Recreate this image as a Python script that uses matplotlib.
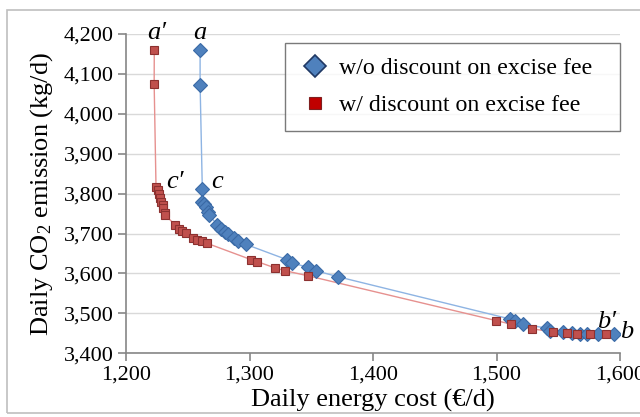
import matplotlib
matplotlib.use("Agg")
import matplotlib.pyplot as plt
from matplotlib.ticker import FuncFormatter, MultipleLocator
from matplotlib.patches import Rectangle
from matplotlib.lines import Line2D

plt.rcParams['font.family'] = ['Liberation Serif', 'DejaVu Serif']
plt.rcParams['mathtext.fontset'] = 'custom'
plt.rcParams['mathtext.rm'] = 'Liberation Serif'
plt.rcParams['mathtext.it'] = 'Liberation Serif:italic'

# w/o discount on excise fee (blue)
cost_wo = [1260, 1260, 1261.8, 1261.8, 1263.4, 1264.5, 1266.1, 1267.2, 1273.9, 1276.7,
           1280.2, 1282.8, 1287.7, 1290.4, 1297.0, 1330.0, 1334.1, 1347.6, 1353.8, 1371.4,
           1510.9, 1515.0, 1521.7, 1540.6, 1543.3, 1554.1, 1560.9, 1567.6, 1573.0, 1582.4, 1595.0]
co2_wo = [4159, 4073, 3811, 3780, 3773, 3766, 3755, 3747, 3722, 3712,
          3705, 3699, 3688, 3682, 3673, 3635, 3627, 3615, 3607, 3592,
          3486, 3482, 3473, 3463, 3457, 3453, 3450, 3448, 3448, 3448, 3448]

# w/ discount on excise fee (red)
cost_w = [1222.9, 1222.8, 1224.3, 1226.0, 1226.7, 1227.5, 1228.6, 1229.7, 1230.2, 1231.3,
          1231.8, 1239.7, 1243.2, 1245.0, 1248.6, 1254.5, 1257.7, 1261.3, 1265.3, 1301.0,
          1306.0, 1320.6, 1328.7, 1347.6, 1499.6, 1511.7, 1529.0, 1546.0, 1556.8, 1564.9,
          1575.7, 1588.7]
co2_w = [4160, 4075, 3817, 3809, 3799, 3788, 3778, 3771, 3763, 3751,
         3746, 3722, 3711, 3707, 3702, 3688, 3684, 3681, 3676, 3635,
         3630, 3614, 3607, 3594, 3482, 3473, 3461, 3454, 3450, 3448,
         3448, 3448]

labels = ["w/o discount on excise fee", "w/ discount on excise fee"]

# point labels: text, cost, co2
pt_text = ["a\u2032", "a", "c\u2032", "c", "b\u2032", "b"]
pt_cost = [1225, 1260, 1240, 1273.5, 1589, 1605.5]
pt_co2 = [4203, 4203, 3830, 3830, 3479, 3454]

fig = plt.figure(figsize=(6.4, 4.17), dpi=100)
ax = fig.add_axes([126/640, 1-353.3/417, (620-126)/640, (353.3-34)/417])

blue_line = '#8EB4E3'
red_line = '#E6918F'
ax.plot(cost_wo, co2_wo, '-', color=blue_line, lw=1.0, zorder=2)
ax.plot(cost_w, co2_w, '-', color=red_line, lw=1.0, zorder=2)
ax.plot(cost_wo, co2_wo, 'D', ls='none', ms=7, mfc='#4F81BD', mec='#3A6AA6', mew=0.8, zorder=3)
ax.plot(cost_w, co2_w, 's', ls='none', ms=6.3, mfc='#C0504D', mec='#8C3130', mew=0.8, zorder=4)

ax.set_xlim(1200, 1600)
ax.set_ylim(3400, 4200)
ax.xaxis.set_major_locator(MultipleLocator(100))
ax.yaxis.set_major_locator(MultipleLocator(100))
fmt = FuncFormatter(lambda v, p: f"{v:,.0f}")
ax.xaxis.set_major_formatter(fmt)
ax.yaxis.set_major_formatter(fmt)
ax.grid(axis='y', color='#D9D9D9', lw=1.0)
ax.set_axisbelow(True)
for s in ['top', 'right']:
    ax.spines[s].set_visible(False)
for s in ['left', 'bottom']:
    ax.spines[s].set_color('#868686')
    ax.spines[s].set_linewidth(1.2)
ax.tick_params(direction='out', length=6, width=1.2, color='#868686', labelsize=16, pad=3)

ax.set_xlabel("Daily energy cost (\u20ac/d)", fontsize=19, labelpad=3)
ax.set_ylabel("Daily CO$_2$ emission (kg/d)", fontsize=19, labelpad=6)

for t, x, y in zip(pt_text, pt_cost, pt_co2):
    ax.text(x, y, t, fontsize=19, style='italic', ha='center', va='center', clip_on=False)

# legend
h1 = Line2D([], [], marker='D', ls='none', ms=11, mfc='#4F81BD', mec='#1F3864', mew=1.2)
h2 = Line2D([], [], marker='s', ls='none', ms=8.5, mfc='#C00000', mec='#7F1F1F', mew=0.8)
x0, x1 = 285/640, 620/640
ytop = 1 - 43/417
leg = fig.legend([h1, h2], labels, loc='upper left', mode='expand',
                 bbox_to_anchor=(x0, ytop - 0.2, x1 - x0, 0.2),
                 fontsize=17.2, frameon=True, fancybox=False, borderpad=0.6, labelspacing=0.65,
                 handlelength=1.35, handletextpad=0.3, borderaxespad=0)
leg.get_frame().set_edgecolor('#595959')
leg.get_frame().set_linewidth(1.0)

# outer frame
fig.patches.append(Rectangle((7/640, 1-413/417), 640/640, (413-10)/417, transform=fig.transFigure,
                             fill=False, edgecolor='#BFBFBF', lw=1.2))

fig.savefig("out.png", dpi=100)
